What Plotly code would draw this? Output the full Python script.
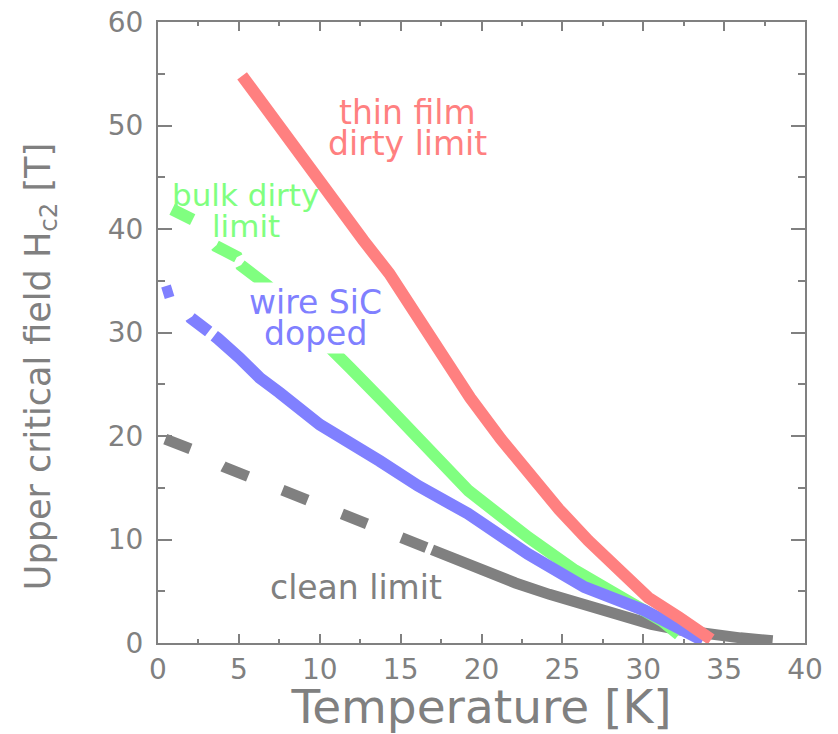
import plotly.graph_objects as go

# ---- data ----
clean_T = [0.45, 2.1, 4.1, 5.7, 7.7, 9.2, 11.4, 12.8, 14.8, 16.9, 20.0, 22.1, 24.2, 26.4, 28.5, 30.5, 32.3, 34.0, 36.0, 38.0]
clean_H = [19.7, 18.7, 17.0, 16.0, 14.7, 13.8, 12.4, 11.6, 10.4, 9.2, 7.0, 5.8, 4.7, 3.6, 2.6, 1.8, 1.25, 0.85, 0.5, 0.22]

bulk_T = [0.87, 2.16, 3.59, 4.88, 5.13, 6.80, 8.78, 10.63, 11.87, 14.0, 16.1, 19.2, 22.9, 25.8, 28.0, 30.0, 31.2, 32.2]
bulk_H = [41.9, 40.9, 38.35, 37.3, 36.5, 34.5, 31.4, 28.3, 26.6, 23.2, 19.6, 14.7, 10.2, 7.0, 5.0, 3.3, 2.1, 0.8]

wire_T = [0.31, 0.93, 2.04, 3.21, 3.71, 5.0, 6.3, 7.5, 10.0, 13.7, 16.07, 19.16, 22.87, 26.37, 30.08, 33.68]
wire_H = [33.8, 34.1, 31.4, 30.1, 29.4, 27.6, 25.6, 24.2, 21.1, 17.6, 15.2, 12.5, 8.6, 5.4, 3.15, 0.25]

film_T = [5.2, 9.4, 12.7, 14.3, 16.4, 17.6, 19.3, 21.2, 23.05, 24.8, 26.6, 28.5, 30.3, 32.2, 34.2]
film_H = [54.8, 45.7, 38.9, 35.7, 30.5, 27.4, 23.7, 19.7, 16.0, 12.9, 9.9, 7.1, 4.4, 2.5, 0.35]

x_ticks = [0, 5, 10, 15, 20, 25, 30, 35, 40]
y_ticks = [0, 10, 20, 30, 40, 50, 60]

GRAY = "#808080"
RED = "#FF8080"
GREEN = "#80FF80"
BLUE = "#8080FF"
FONT = "DejaVu Sans"

fig = go.Figure()
fig.add_trace(go.Scatter(x=clean_T, y=clean_H, mode="lines",
                         line=dict(color=GRAY, width=11,
                                   dash="27px,37px,27px,37px,27px,37px,27px,37px,27px,6px,3000px")))
fig.add_trace(go.Scatter(x=bulk_T, y=bulk_H, mode="lines",
                         line=dict(color=GREEN, width=12, dash="23px,35px,24px,9px,3000px")))
fig.add_trace(go.Scatter(x=wire_T, y=wire_H, mode="lines",
                         line=dict(color=BLUE, width=12, dash="10px,33px,23px,7px,3000px")))
fig.add_trace(go.Scatter(x=film_T, y=film_H, mode="lines",
                         line=dict(color=RED, width=12)))


def px2x(p):
    return (p - 158) / 16.18


def px2y(p):
    return (642.7 - p) / 10.345


def label(text, xp, yp, color, bg=None, size=33):
    fig.add_annotation(x=px2x(xp), y=px2y(yp), xref="x", yref="y", text=text, showarrow=False,
                       xanchor="center", yanchor="middle",
                       font=dict(family=FONT, size=size, color=color),
                       bgcolor=bg if bg else "rgba(0,0,0,0)", borderpad=0)


label("thin film", 408, 112, RED)
label("dirty limit", 408, 143, RED)
label("bulk dirty", 246, 195, GREEN, size=31)
label("limit", 246, 226, GREEN, size=31)
label("wire SiC", 316, 302, BLUE, bg="white")
label("doped", 316, 333, BLUE, bg="white")
label("clean limit", 356, 587, GRAY)

# y axis title (placed as rotated text to match the reference position)
fig.add_annotation(x=(40 - 158) / 647, y=(642.7 - 367) / 620.7, xref="paper", yref="paper",
                   text="Upper critical field H<sub>c2</sub> [T]", textangle=-90, showarrow=False,
                   xanchor="center", yanchor="middle",
                   font=dict(family=FONT, size=35, color=GRAY))

axis_common = dict(showline=True, linecolor=GRAY, linewidth=2, mirror="ticks",
                   ticks="inside", tickcolor=GRAY, tickwidth=2,
                   showgrid=False, zeroline=False,
                   tickfont=dict(family=FONT, size=28, color=GRAY))

fig.update_xaxes(range=[0, 40], tickvals=x_ticks, ticklen=9,
                 minor=dict(dtick=2.5, tick0=0, ticklen=4, tickcolor=GRAY, tickwidth=2, ticks="inside"),
                 title=dict(text="Temperature [K]", font=dict(family=FONT, size=47, color=GRAY), standoff=10),
                 ticklabelstandoff=0,
                 **axis_common)
fig.update_yaxes(range=[0, 60], tickvals=y_ticks, ticklen=14,
                 minor=dict(dtick=5, tick0=0, ticklen=7, tickcolor=GRAY, tickwidth=2, ticks="inside"),
                 ticklabelstandoff=7,
                 **axis_common)

fig.update_layout(width=838, height=734, margin=dict(l=158, r=33, t=22, b=91, autoexpand=False),
                  paper_bgcolor="white", plot_bgcolor="white", showlegend=False)

fig.write_html("out.html")
